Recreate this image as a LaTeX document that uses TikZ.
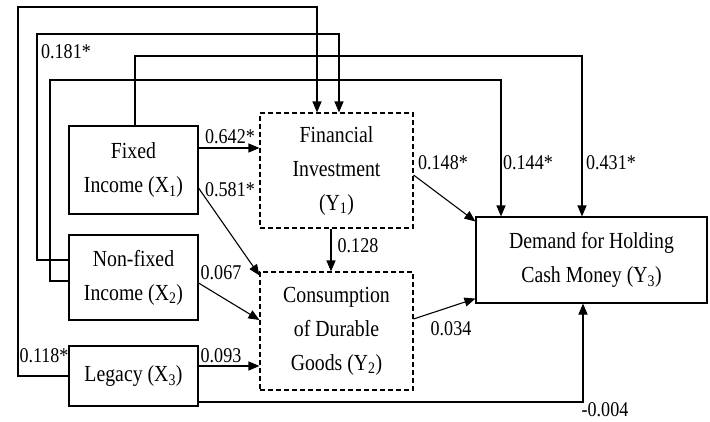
\documentclass[tikz,border=0pt]{standalone}
\usepackage{fontspec}
\setmainfont[FakeStretch=0.86]{Liberation Serif}
\usetikzlibrary{arrows.meta}
\tikzstyle{var}=[draw=black, line width=1.1, align=center, inner sep=2pt, font=\fontsize{23}{34}\selectfont]
\tikzstyle{med}=[var, dash pattern=on 5pt off 3pt]
\tikzstyle{arr}=[line width=1.1, -{Triangle[length=11pt,width=9pt]}]
\tikzstyle{coef}=[inner sep=0pt, font=\fontsize{21}{21}\selectfont]

\begin{document}
\begin{tikzpicture}[x=1pt, y=-1pt]

    \useasboundingbox (0,0) rectangle (710,421);

    % exogenous and endogenous variables
    \node[var, minimum width=129pt, minimum height=88pt] at (133.5,170) (x1) {Fixed\\Income (X\textsubscript{1})};
    \node[var, minimum width=129pt, minimum height=85pt] at (133.5,277.5) (x2) {Non-fixed\\Income (X\textsubscript{2})};
    \node[var, minimum width=129pt, minimum height=60pt] at (133.5,376) (x3) {Legacy (X\textsubscript{3})};
    \node[med, minimum width=153pt, minimum height=115pt] at (336.5,170.5) (y1) {Financial\\Investment\\(Y\textsubscript{1})};
    \node[med, minimum width=153pt, minimum height=118pt] at (336.5,331) (y2) {Consumption\\of Durable\\Goods (Y\textsubscript{2})};
    \node[var, minimum width=231pt, minimum height=86pt] at (591.5,260) (y3) {Demand for Holding\\Cash Money (Y\textsubscript{3})};

    % direct paths
    \draw[arr] ([yshift=22pt]x1.east) -- ([yshift=22.5pt]y1.west);
    \draw[arr] ([yshift=-18pt]x1.east) -- ([yshift=-4pt]y2.north west);
    \draw[arr] ([yshift=-5.5pt]x2.east) -- ([yshift=11pt]y2.west);
    \draw[arr] ([yshift=10pt]x3.east) -- ([yshift=-35pt]y2.west);
    \draw[arr] ([xshift=-5.5pt]y1.south) -- ([xshift=-5.5pt]y2.north);
    \draw[arr] ([yshift=-4.5pt]y1.east) -- ([yshift=-5pt]y3.north west);
    \draw[arr] ([yshift=12pt]y2.east) -- ([yshift=5pt]y3.south west);

    % paths round the outside
    \draw[arr] (x3.west) -| (18,7) -| ([xshift=-19.5pt]y1.north);
    \draw[arr] ([yshift=17.5pt]x2.west) -| (37,34) -| ([xshift=2.5pt]y1.north);
    \draw[arr] ([xshift=1.5pt]x1.north) |- (582,56) -- ([xshift=-9.5pt]y3.north);
    \draw[arr] ([yshift=-3.5pt]x2.west) -| (50,80) -| ([xshift=-90.5pt]y3.north);
    \draw[arr] ([yshift=-26pt]x3.east) -| ([xshift=-8.5pt]y3.south);

    % coefficients
    \node[coef] at (66,52) (c181) {0.181*};
    \node[coef] at (230,137) (c642) {0.642*};
    \node[coef] at (230,190) (c581) {0.581*};
    \node[coef] at (221,273) (c067) {0.067};
    \node[coef] at (221,356) (c093) {0.093};
    \node[coef] at (44,356) (c118) {0.118*};
    \node[coef] at (358,246) (c128) {0.128};
    \node[coef] at (443,163) (c148) {0.148*};
    \node[coef] at (528,163) (c144) {0.144*};
    \node[coef] at (611,163) (c431) {0.431*};
    \node[coef] at (451,329) (c034) {0.034};
    \node[coef] at (605,410) (c004) {-0.004};

\end{tikzpicture}
\end{document}
